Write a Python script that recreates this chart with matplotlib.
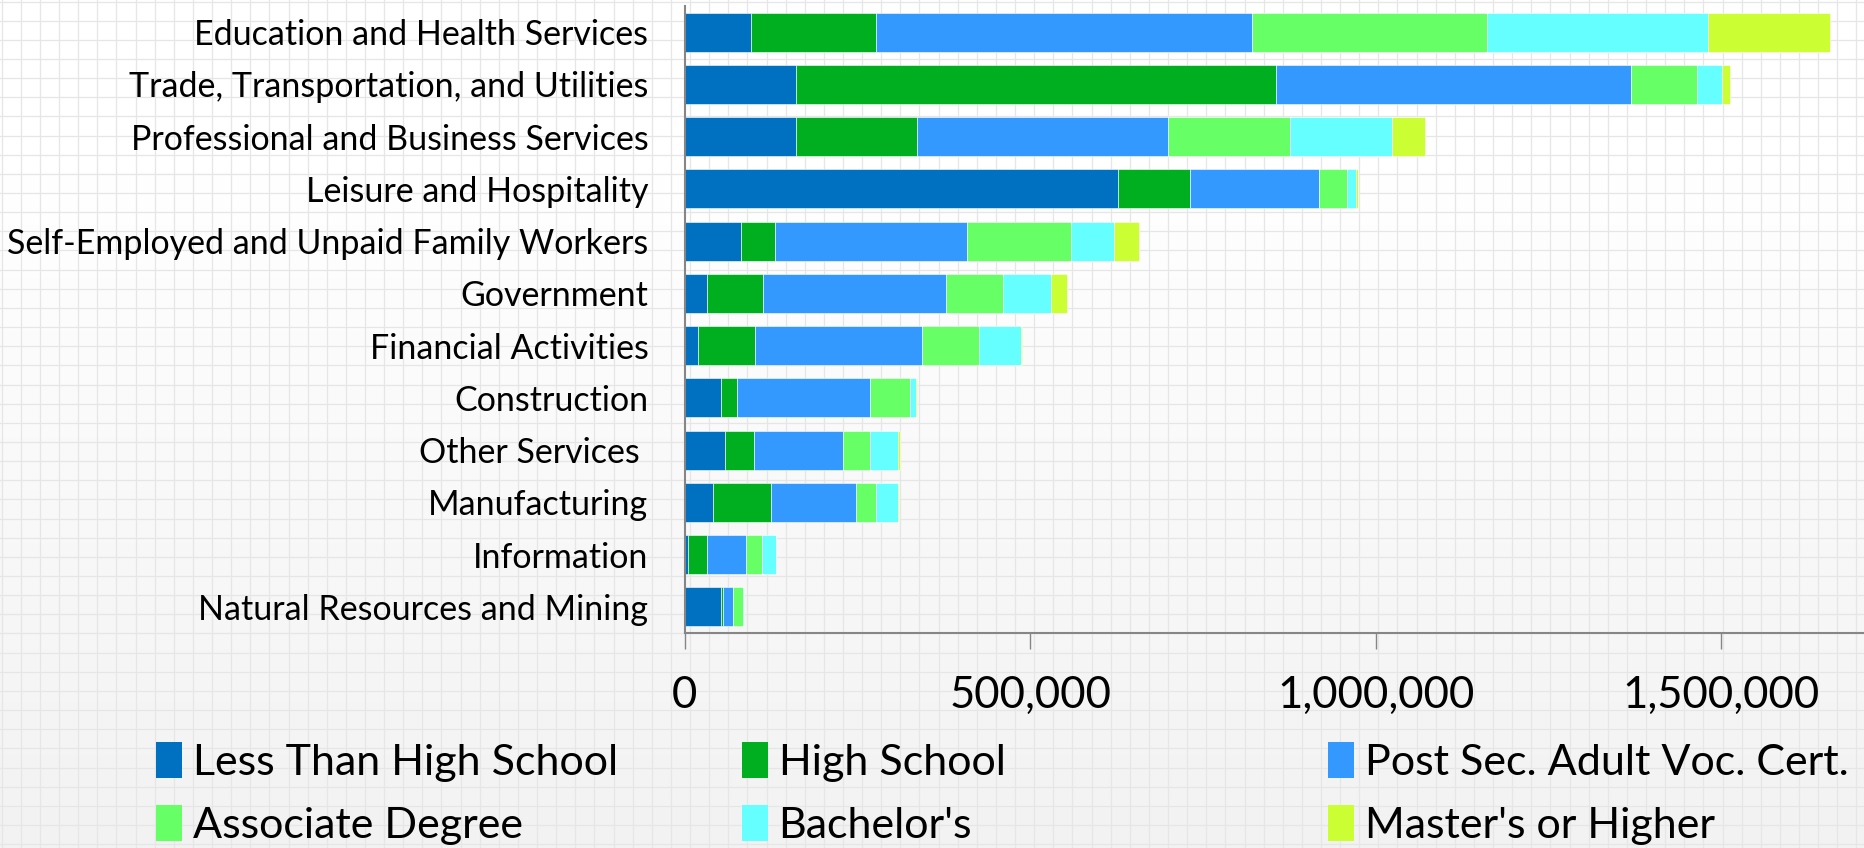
import numpy as np
import matplotlib
matplotlib.use("Agg")
import matplotlib.pyplot as plt
from matplotlib.patches import Patch
from matplotlib.ticker import FuncFormatter

plt.rcParams['font.family'] = ['Lato', 'DejaVu Sans']

# industries, top to bottom
industries = ["Education and Health Services",
              "Trade, Transportation, and Utilities",
              "Professional and Business Services",
              "Leisure and Hospitality",
              "Self-Employed and Unpaid Family Workers",
              "Government",
              "Financial Activities",
              "Construction",
              "Other Services ",
              "Manufacturing",
              "Information",
              "Natural Resources and Mining"]

less_than_hs = [96700, 161900, 161400, 627900, 81900, 32700, 19200, 52100, 57900, 40500, 4900, 52100]
high_school = [180900, 693900, 174400, 103200, 48300, 80200, 82600, 23900, 42700, 84700, 27200, 3900]
post_sec = [544100, 513900, 363800, 187000, 278600, 265600, 241700, 192600, 128500, 122700, 56900, 13600]
associate = [339400, 95200, 176000, 40200, 149800, 82100, 82600, 58200, 39500, 28400, 23200, 15500]
bachelors = [319400, 36000, 148000, 14000, 62700, 69000, 60800, 7700, 40100, 32400, 19400, 500]
masters = [177000, 12000, 47300, 2200, 35600, 23300, 1900, 1300, 2500, 1300, 400, 200]

series = [less_than_hs, high_school, post_sec, associate, bachelors, masters]
labels = ["Less Than High School", "High School", "Post Sec. Adult Voc. Cert.",
          "Associate Degree", "Bachelor's", "Master's or Higher"]
colors = ["#0070C0", "#00AF20", "#3399FF", "#66FF66", "#66FFFF", "#CCFF33"]

W, H = 1864, 848
fig = plt.figure(figsize=(W / 100, H / 100), dpi=100)

# slide background: light gradient with graph paper grid
bg = fig.add_axes([0, 0, 1, 1], zorder=-10)
grad = np.linspace(0, 1, 256).reshape(-1, 1)
grad = np.clip((grad - 0.2) / 0.8, 0, 1)
shade = 1.0 - 0.05 * grad
bg.imshow(np.dstack([shade, shade, shade]), extent=[0, W, H, 0], aspect='auto')
for x in np.arange(1.7, W, 19.12):
    bg.axvline(x, color='#e6e6e6', lw=0.9, zorder=1)
for y in np.arange(1.5, H, 19.15):
    bg.axhline(y, color='#e6e6e6', lw=0.9, zorder=1)
bg.set_xlim(0, W)
bg.set_ylim(H, 0)
bg.axis('off')

ax = fig.add_axes([684.6 / W, 1 - 633 / H, 1 - 684.6 / W, (633 - 6) / H])
ax.patch.set_alpha(0)

y = np.arange(len(industries))
left = np.zeros(len(industries))
for vals, lab, col in zip(series, labels, colors):
    ax.barh(y, vals, left=left, height=0.75, color=col, label=lab,
            edgecolor='#ffffff', linewidth=0.4)
    left += np.array(vals)

ax.set_ylim(len(industries) - 0.5, -0.5)
ax.set_xlim(0, 1706800)
ax.set_yticks(y)
ax.set_yticklabels(industries, fontsize=24.5)
ax.set_xticks([0, 500000, 1000000, 1500000])
ax.xaxis.set_major_formatter(FuncFormatter(lambda v, p: f"{int(v):,}"))
ax.tick_params(axis='x', labelsize=31.5, length=11.5, width=1, color='#868686', pad=19)
ax.tick_params(axis='y', length=0, pad=26)

for s in ['top', 'right']:
    ax.spines[s].set_visible(False)
for s in ['left', 'bottom']:
    ax.spines[s].set_color('#868686')
    ax.spines[s].set_linewidth(1.5)

# legend in three columns below the chart
col_x = [156 / W, 742 / W, 1328 / W]
for c in range(3):
    handles = [Patch(facecolor=colors[c], label=labels[c]),
               Patch(facecolor=colors[c + 3], label=labels[c + 3])]
    leg = fig.legend(handles=handles, loc='upper left',
                     bbox_to_anchor=(col_x[c], 1 - 742 / H),
                     frameon=False, fontsize=31, handlelength=0.6,
                     handleheight=0.9, handletextpad=0.25,
                     labelspacing=0.55, borderpad=0, borderaxespad=0)

fig.savefig("out.png", dpi=100)
